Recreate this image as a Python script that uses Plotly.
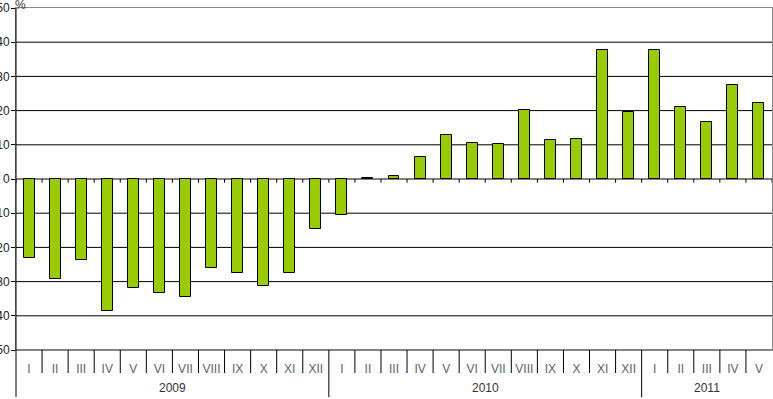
import plotly.graph_objects as go

months = ["I", "II", "III", "IV", "V", "VI", "VII", "VIII", "IX", "X", "XI", "XII",
          "I", "II", "III", "IV", "V", "VI", "VII", "VIII", "IX", "X", "XI", "XII",
          "I", "II", "III", "IV", "V"]
years = ["2009"] * 12 + ["2010"] * 12 + ["2011"] * 5
values = [-23.1, -29.2, -23.7, -38.6, -31.9, -33.3, -34.5, -26.0, -27.5, -31.3, -27.5, -14.6,
          -10.5, 0.3, 0.9, 6.4, 13.0, 10.5, 10.2, 20.1, 11.4, 11.7, 37.7, 19.6,
          37.7, 21.1, 16.7, 27.5, 22.2]
y_ticks = [50, 40, 30, 20, 10, 0, -10, -20, -30, -40, -50]

n = len(months)
xs = list(range(n))

fig = go.Figure()
fig.add_trace(go.Bar(
    x=xs, y=values,
    width=0.42,
    marker=dict(color="#99cc00", line=dict(color="#000000", width=1)),
    hoverinfo="skip",
))

shapes = []
# gridlines (black) from -50 up to 40
for v in y_ticks:
    if v < 50:
        shapes.append(dict(type="line", xref="paper", yref="y", x0=0, x1=1, y0=v, y1=v,
                           line=dict(color="#000000", width=1), layer="below"))
# small ticks on zero line between categories
for i in range(n + 1):
    shapes.append(dict(type="line", xref="x", yref="y", x0=i - 0.5, x1=i - 0.5, y0=0, y1=-1.1,
                       line=dict(color="#000000", width=1)))
# month separators and year separators below plot
for i in range(1, n):
    is_year = years[i] != years[i - 1]
    shapes.append(dict(type="line", xref="x", yref="paper", x0=i - 0.5, x1=i - 0.5,
                       y0=0, y1=(-47 / 342) if is_year else (-23 / 342),
                       line=dict(color="#000000", width=1)))
# left axis line extended downward
shapes.append(dict(type="line", xref="paper", yref="paper", x0=0, x1=0, y0=1, y1=-47 / 342,
                   line=dict(color="#000000", width=1)))

annotations = []
# year labels centered on their spans
seen = []
for yv in years:
    if yv not in seen:
        seen.append(yv)
for yv in seen:
    idx = [i for i, y in enumerate(years) if y == yv]
    center = (idx[0] - 0.5 + idx[-1] + 0.5) / 2
    annotations.append(dict(x=center, xref="x", y=-38 / 342, yref="paper", text=yv,
                            showarrow=False, yanchor="middle",
                            font=dict(family="Liberation Sans, Arial", size=12, color="#333333")))
annotations.append(dict(x=0, xref="paper", y=1, yref="paper", text="%", showarrow=False,
                        xanchor="left", yanchor="bottom", xshift=-3, yshift=-6,
                        font=dict(family="Liberation Sans, Arial", size=12, color="#333333")))

fig.update_layout(
    width=773, height=399,
    margin=dict(l=16, r=1, t=8, b=49, autoexpand=False),
    paper_bgcolor="white", plot_bgcolor="white",
    showlegend=False,
    bargap=0,
    shapes=shapes,
    annotations=annotations,
    xaxis=dict(
        range=[-0.5, n - 0.5], automargin=False,
        tickmode="array", tickvals=xs, ticktext=months,
        ticks="", showgrid=False, zeroline=False,
        showline=True, linecolor="#888888", linewidth=1, mirror=True,
        tickfont=dict(family="Liberation Sans, Arial", size=12, color="#5a6464"),
        ticklabelstandoff=8,
    ),
    yaxis=dict(
        range=[-50, 50], automargin=False,
        tickmode="array", tickvals=y_ticks, ticktext=[str(v) for v in y_ticks],
        ticks="outside", ticklen=4, tickcolor="#000000",
        showgrid=False, zeroline=False,
        showline=True, linecolor="#888888", linewidth=1, mirror=True,
        tickfont=dict(family="Liberation Sans, Arial", size=12, color="#222222"),
        ticklabelstandoff=-1,
    ),
)

fig.write_html("out.html", post_script="document.body.style.margin='0';",
               config={"displayModeBar": False})
